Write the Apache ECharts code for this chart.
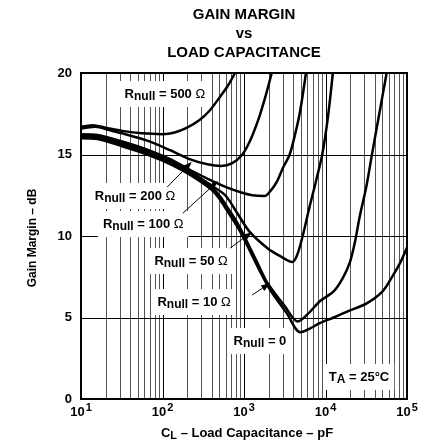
<!DOCTYPE html>
<html><head><meta charset="utf-8">
<script src="https://cdn.jsdelivr.net/npm/echarts@6/dist/echarts.min.js"></script>
<style>html,body{margin:0;padding:0;background:#fff}#c{width:433px;height:446px}</style>
</head><body><div id="c"></div>
<script>
const FONT = '"Liberation Sans", Arial, Helvetica, sans-serif';

// axis ranges, ticks and tick labels
const X_MIN = 10, X_MAX = 100000, Y_MIN = 0, Y_MAX = 20;
const xTicks = [10, 100, 1000, 10000, 100000];
const xTickExp = ['1', '2', '3', '4', '5'];
const yTicks = [0, 5, 10, 15, 20];
const minorGrid = [20,30,40,50,60,70,80,90, 200,300,400,500,600,700,800,900,
  2000,3000,4000,5000,6000,7000,8000,9000, 20000,30000,40000,50000,60000,70000,80000,90000];

// series: [load capacitance pF, gain margin dB]
const r500 = [[10,16.7],[14,16.8],[20,16.65],[32,16.45],[56,16.3],[100,16.25],[141,16.35],[200,16.65],[282,17.1],[380,17.7],[501,18.5],[631,19.2],[776,20]];
const r200 = [[10,16.6],[15,16.7],[22,16.5],[32,16.3],[65,15.85],[126,15.25],[219,14.7],[355,14.4],[525,14.3],[708,14.45],[955,15.0],[1202,15.9],[1514,17.2],[1820,18.5],[2188,20]];
const r100 = [[10,16.25],[16,16.2],[32,15.8],[65,15.3],[126,14.7],[219,14.05],[417,13.35],[603,13.0],[891,12.7],[1259,12.5],[1778,12.45],[2138,12.8],[2512,13.3],[3020,14.2],[3631,15.0],[4266,16.3],[4898,17.7],[5754,20]];
const r50 = [[10,16.15],[16,16.1],[32,15.7],[65,15.2],[126,14.6],[219,13.95],[398,13.1],[589,12.5],[851,11.3],[1175,10.25],[1995,9.2],[2818,8.75],[3890,8.4],[4467,8.8],[5248,10.0],[6310,11.7],[7586,13.3],[9120,15.0],[10715,17.3],[12303,20]];
const r10 = [[10,16.05],[16,16.0],[32,15.6],[65,15.1],[126,14.5],[219,13.85],[398,13.0],[513,12.4],[617,11.8],[851,10.7],[1479,8.3],[1950,7.1],[3162,5.7],[4571,4.75],[6310,5.3],[8511,6.0],[12589,6.6],[16218,7.4],[19953,8.4],[22909,9.6],[26303,11.2],[31623,13.0],[37154,15.0],[45709,17.5],[56234,20]];
const r0 = [[10,16.0],[16,15.95],[32,15.5],[65,15.0],[126,14.4],[219,13.75],[398,12.85],[513,12.2],[631,11.5],[891,10.3],[1585,7.8],[2089,6.7],[3311,5.3],[4898,4.1],[6310,4.3],[8511,4.65],[12589,5.0],[18197,5.35],[31623,5.85],[50119,6.6],[67608,7.6],[83176,8.4],[100000,9.3]];

// annotation labels: [pF, dB, text]
const labels = [
  [107, 18.71, '{r|R}{s|null}{r| = 500 }{o|Ω}'],
  [46, 12.45, '{r|R}{s|null}{r| = 200 }{o|Ω}'],
  [58, 10.74, '{r|R}{s|null}{r| = 100 }{o|Ω}'],
  [224, 8.47, '{r|R}{s|null}{r| = 50 }{o|Ω}'],
  [244, 5.95, '{r|R}{s|null}{r| = 10 }{o|Ω}'],
  [1570, 3.56, '{r|R}{s|null}{r| = 0}'],
  [25760, 1.35, '{r|T}{s|A}{r| = 25°C}']
];
// leader arrows: [fromPF, fromDB, toPF, toDB]
const arrows = [
  [114, 13.0, 229, 14.55],
  [178, 11.4, 479, 13.37],
  [676, 9.26, 1259, 10.25],
  [1259, 6.38, 2089, 7.1]
];
const titleLines = ['GAIN MARGIN', 'vs', 'LOAD CAPACITANCE'];
const xName = '{r|C}{s|L}{r| – Load Capacitance – pF}';
const yName = 'Gain Margin – dB';

const rich = {
  r: {fontFamily: FONT, fontWeight: 'bold', fontSize: 13, fill: '#000'},
  s: {fontFamily: FONT, fontWeight: 'bold', fontSize: 12, fill: '#000', padding: [6, 0, 0, 0]},
  o: {fontFamily: FONT, fontWeight: 'normal', fontSize: 13, fill: '#000'}
};
const tickRich = {
  b: {fontFamily: FONT, fontWeight: 'bold', fontSize: 13, fill: '#000'},
  p: {fontFamily: FONT, fontWeight: 'bold', fontSize: 11, fill: '#000', padding: [0, 0, 8, 1]}
};

function curve(name, data) {
  return {name, type: 'line', data, z: 3, symbol: 'none', smooth: 0.3, clip: true,
    silent: true, lineStyle: {color: '#000', width: 2.5}};
}
function custom(z, data, renderItem) {
  return {type: 'custom', z, silent: true, clip: false, data, encode: {x: 0, y: 1}, renderItem};
}
const crisp = v => Math.round(v) + 0.5;

const chart = echarts.init(document.getElementById('c'), null, {renderer: 'canvas'});
chart.setOption({
  animation: false,
  backgroundColor: '#fff',
  grid: {left: 81, right: 26, top: 73, bottom: 47, show: false, outerBoundsMode: 'none'},
  xAxis: {type: 'log', logBase: 10, min: X_MIN, max: X_MAX, show: false},
  yAxis: {type: 'value', min: Y_MIN, max: Y_MAX, show: false},
  graphic: [
    ...titleLines.map((t, i) => ({type: 'text', silent: true, x: 244, y: 15 + 19 * i,
      style: {text: t, align: 'center', verticalAlign: 'middle', fill: '#000',
        fontFamily: FONT, fontWeight: 'bold', fontSize: 15}})),
    {type: 'text', silent: true, x: 33, y: 238, rotation: Math.PI / 2,
      style: {text: yName, align: 'center', verticalAlign: 'middle', fill: '#000',
        fontFamily: FONT, fontWeight: 'bold', fontSize: 12}},
    {type: 'text', silent: true, x: 247, y: 433,
      style: {text: xName, align: 'center', verticalAlign: 'middle', rich: {
        r: {fontFamily: FONT, fontWeight: 'bold', fontSize: 13, fill: '#000'},
        s: {fontFamily: FONT, fontWeight: 'bold', fontSize: 11, fill: '#000', padding: [6, 0, 0, 0]}
      }, fill: '#000', fontFamily: FONT, fontWeight: 'bold', fontSize: 13}}
  ],
  series: [
    // minor vertical grid lines
    custom(1, minorGrid.map(v => [v, Y_MIN]), function (params, api) {
      const v = api.value(0);
      const a = api.coord([v, Y_MIN]), b = api.coord([v, Y_MAX]);
      const x = crisp(a[0]);
      return {type: 'line', shape: {x1: x, y1: a[1], x2: x, y2: b[1]}, style: {stroke: '#555', lineWidth: 1}};
    }),
    // major vertical grid lines
    custom(1, xTicks.slice(1, -1).map(v => [v, Y_MIN]), function (params, api) {
      const v = api.value(0);
      const a = api.coord([v, Y_MIN]), b = api.coord([v, Y_MAX]);
      const x = crisp(a[0]);
      return {type: 'line', shape: {x1: x, y1: a[1], x2: x, y2: b[1]}, style: {stroke: '#000', lineWidth: 1}};
    }),
    // horizontal grid lines
    custom(1, yTicks.slice(1, -1).map(v => [X_MIN, v]), function (params, api) {
      const v = api.value(1);
      const a = api.coord([X_MIN, v]), b = api.coord([X_MAX, v]);
      const y = crisp(a[1]);
      return {type: 'line', shape: {x1: a[0], y1: y, x2: b[0], y2: y}, style: {stroke: '#000', lineWidth: 1}};
    }),
    // x tick labels
    custom(5, xTicks.map(v => [v, Y_MIN]), function (params, api) {
      const p = api.coord([api.value(0), Y_MIN]);
      return {type: 'text', x: p[0], y: p[1] + 13,
        style: {text: '{b|10}{p|' + xTickExp[params.dataIndex] + '}', rich: tickRich,
          align: 'center', verticalAlign: 'middle', fill: '#000', fontFamily: FONT, fontWeight: 'bold', fontSize: 13}};
    }),
    // y tick labels
    custom(5, yTicks.map(v => [X_MIN, v]), function (params, api) {
      const p = api.coord([X_MIN, api.value(1)]);
      return {type: 'text', x: p[0] - 9, y: p[1],
        style: {text: String(yTicks[params.dataIndex]), align: 'right', verticalAlign: 'middle',
          fill: '#000', fontFamily: FONT, fontWeight: 'bold', fontSize: 13}};
    }),
    // annotation labels with white boxes
    custom(2, labels.map(l => [l[0], l[1]]), function (params, api) {
      const p = api.coord([api.value(0), api.value(1)]);
      return {type: 'text', x: p[0], y: p[1],
        style: {text: labels[params.dataIndex][2], rich: rich, align: 'center', verticalAlign: 'middle',
          backgroundColor: '#fff', padding: [4, 5], fill: '#000', fontFamily: FONT, fontWeight: 'bold', fontSize: 13}};
    }),
    curve('500', r500),
    curve('200', r200),
    curve('100', r100),
    curve('50', r50),
    curve('10', r10),
    curve('0', r0),
    // leader arrows
    {type: 'custom', z: 4, silent: true, clip: false, data: arrows, encode: {x: [0, 2], y: [1, 3]},
      renderItem: function (params, api) {
        const a = api.coord([api.value(0), api.value(1)]);
        const b = api.coord([api.value(2), api.value(3)]);
        const dx = b[0] - a[0], dy = b[1] - a[1];
        const len = Math.sqrt(dx * dx + dy * dy);
        const ux = dx / len, uy = dy / len;
        const hl = 9, hw = 3.2;
        const bx = b[0] - ux * hl, by = b[1] - uy * hl;
        return {type: 'group', children: [
          {type: 'line', shape: {x1: a[0], y1: a[1], x2: bx, y2: by}, style: {stroke: '#000', lineWidth: 1}},
          {type: 'polygon', shape: {points: [[b[0], b[1]], [bx - uy * hw, by + ux * hw], [bx + uy * hw, by - ux * hw]]},
            style: {fill: '#000'}}
        ]};
      }},
    // plot frame
    custom(5, [[X_MIN, Y_MIN]], function (params, api) {
      const a = api.coord([X_MIN, Y_MIN]), b = api.coord([X_MAX, Y_MAX]);
      return {type: 'rect', shape: {x: a[0], y: b[1], width: b[0] - a[0], height: a[1] - b[1]},
        style: {fill: 'none', stroke: '#000', lineWidth: 2}};
    })
  ]
});
</script></body></html>
